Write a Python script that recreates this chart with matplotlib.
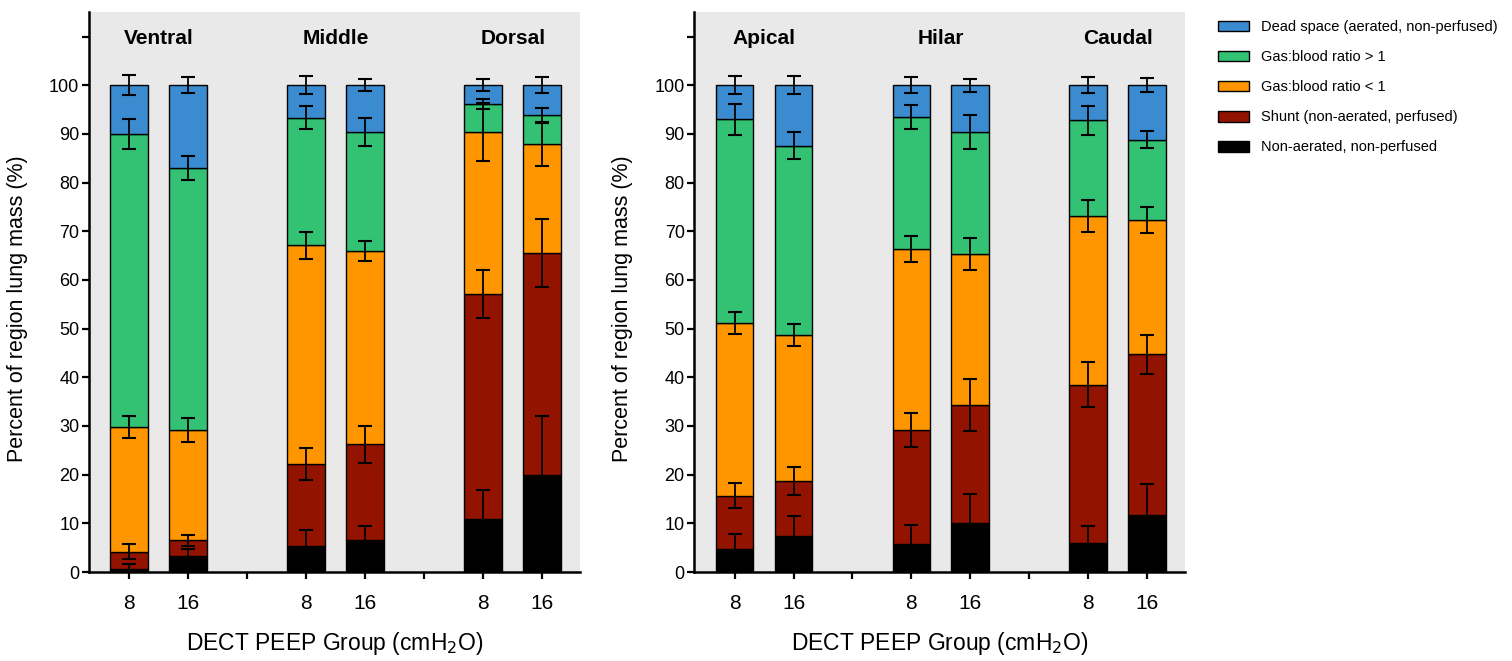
import numpy as np
import matplotlib
matplotlib.use("Agg")
import matplotlib.pyplot as plt
from matplotlib.patches import Patch

plt.rcParams["font.family"] = ["Liberation Sans", "DejaVu Sans"]

# bar order in each panel: (region, PEEP)
peep_labels = ["8", "16", "", "8", "16", "", "8", "16"]
left_groups = ["Ventral", "Middle", "Dorsal"]
right_groups = ["Apical", "Hilar", "Caudal"]

categories = [
    "Dead space (aerated, non-perfused)",
    "Gas:blood ratio > 1",
    "Gas:blood ratio < 1",
    "Shunt (non-aerated, perfused)",
    "Non-aerated, non-perfused",
]
colors = ["#3a8bd0", "#33c173", "#ff9600", "#921300", "#000000"]

# segment values (%), bottom -> top: non-aerated, shunt, gb<1, gb>1, dead space
left_nonaer = [0.7, 3.3, 5.3, 6.5, 10.8, 20.0]
left_shunt = [3.5, 3.2, 16.9, 19.7, 46.3, 45.6]
left_gb_lo = [25.6, 22.7, 44.9, 39.7, 33.3, 22.4]
left_gb_hi = [60.1, 53.8, 26.2, 24.5, 5.8, 5.8]
left_dead = [10.1, 17.0, 6.7, 9.6, 3.8, 6.2]

right_nonaer = [4.8, 7.5, 5.8, 10.0, 6.0, 11.7]
right_shunt = [10.9, 11.2, 23.4, 24.3, 32.5, 33.0]
right_gb_lo = [35.5, 30.0, 37.1, 31.1, 34.6, 27.6]
right_gb_hi = [41.8, 38.9, 27.2, 25.0, 19.7, 16.5]
right_dead = [7.0, 12.4, 6.5, 9.6, 7.2, 11.2]

# error bars (SEM) at the top of each segment
left_err_nonaer = [0.9, 1.5, 3.3, 3.0, 6.0, 12.0]
left_err_shunt = [1.5, 1.2, 3.2, 3.8, 5.0, 7.0]
left_err_gb_lo = [2.3, 2.4, 2.7, 2.1, 6.0, 4.5]
left_err_gb_hi = [3.1, 2.4, 2.4, 2.9, 1.0, 1.5]
left_err_dead = [2.1, 1.6, 1.8, 1.2, 1.2, 1.7]

right_err_nonaer = [3.0, 4.0, 3.9, 6.0, 3.4, 6.3]
right_err_shunt = [2.5, 2.9, 3.5, 5.4, 4.7, 4.0]
right_err_gb_lo = [2.3, 2.2, 2.7, 3.3, 3.3, 2.7]
right_err_gb_hi = [3.2, 2.7, 2.5, 3.5, 3.0, 1.8]
right_err_dead = [1.8, 1.8, 1.6, 1.3, 1.6, 1.5]

bar_pos = np.array([0, 1, 3, 4, 6, 7])
group_pos = [0.5, 3.5, 6.5]


def draw_panel(ax, segs, errs, groups):
    bottom = np.zeros(len(bar_pos))
    # stack from bottom: non-aerated ... dead space (colors reversed)
    for vals, err, col in zip(segs, errs, colors[::-1]):
        vals = np.array(vals)
        ax.bar(bar_pos, vals, bottom=bottom, width=0.64, color=col,
               edgecolor="black", linewidth=1.0, zorder=2)
        top = bottom + vals
        ax.errorbar(bar_pos, top, yerr=err, fmt="none", ecolor="black",
                    elinewidth=1.3, capsize=5, capthick=1.5, zorder=4)
        bottom = top

    for gx, name in zip(group_pos, groups):
        ax.text(gx, 109.5, name, ha="center", va="center", fontsize=15,
                fontweight="bold")

    ax.set_facecolor("#e9e9e9")
    ax.set_xlim(-0.68, 7.64)
    ax.set_ylim(0, 115)
    ax.set_xticks(np.arange(8))
    ax.set_xticklabels(peep_labels, fontsize=15)
    ax.set_yticks(np.arange(0, 111, 10))
    ax.set_yticklabels([str(v) if v <= 100 else "" for v in range(0, 111, 10)],
                       fontsize=13)
    ax.tick_params(axis="x", length=5, width=1.6, pad=11)
    ax.tick_params(axis="y", length=5, width=1.6, pad=2)
    for s in ["top", "right"]:
        ax.spines[s].set_visible(False)
    for s in ["left", "bottom"]:
        ax.spines[s].set_linewidth(1.8)
    ax.set_xlabel("DECT PEEP Group (cmH$_2$O)", fontsize=16.5, labelpad=12)
    ax.set_ylabel("Percent of region lung mass (%)", fontsize=15.5)
    ax.yaxis.set_label_coords(-0.125, 0.47)


fig = plt.figure(figsize=(15.12, 6.61), dpi=100)
ax1 = fig.add_axes([0.0589, 0.1346, 0.3247, 0.847])
ax2 = fig.add_axes([0.4593, 0.1346, 0.3244, 0.847])

draw_panel(ax1,
           [left_nonaer, left_shunt, left_gb_lo, left_gb_hi, left_dead],
           [left_err_nonaer, left_err_shunt, left_err_gb_lo, left_err_gb_hi, left_err_dead],
           left_groups)
draw_panel(ax2,
           [right_nonaer, right_shunt, right_gb_lo, right_gb_hi, right_dead],
           [right_err_nonaer, right_err_shunt, right_err_gb_lo, right_err_gb_hi, right_err_dead],
           right_groups)

handles = [Patch(facecolor=c, edgecolor="black", linewidth=1.0) for c in colors]
fig.legend(handles, categories, loc="upper left",
           bbox_to_anchor=(1205 / 1512, 1 - 7 / 661), frameon=False,
           handlelength=2.1, handleheight=0.75, labelspacing=1.1,
           handletextpad=0.85, prop={"size": 10.5})

fig.savefig("out.png", dpi=100)
